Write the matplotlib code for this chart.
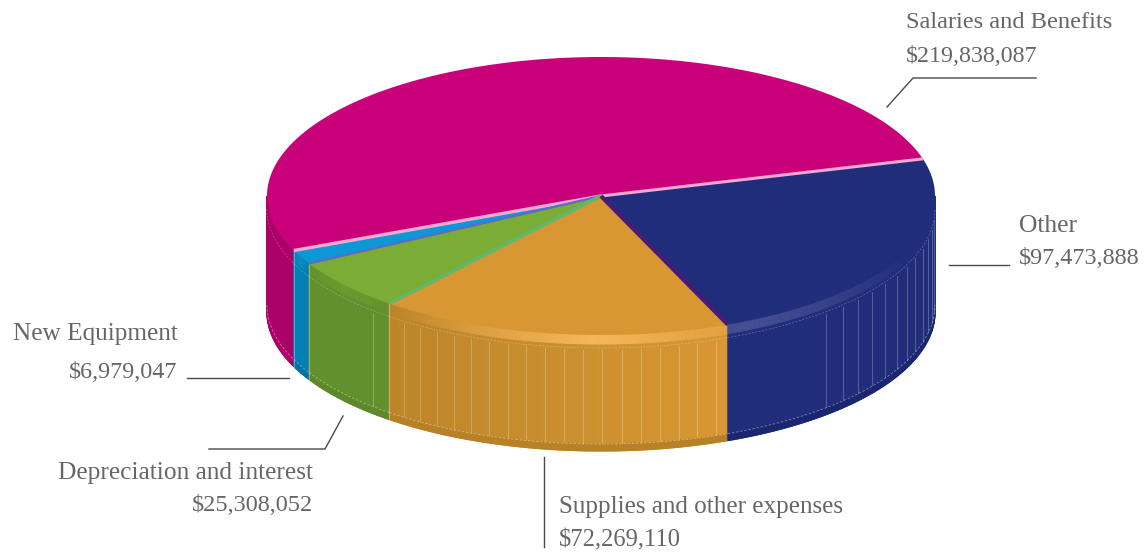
import numpy as np
from matplotlib import pyplot as plt
from matplotlib.colors import to_rgb

categories = ["Salaries and Benefits", "New Equipment", "Depreciation and interest",
              "Supplies and other expenses", "Other"]
values = [219838087, 6979047, 25308052, 72269110, 97473888]
value_labels = ["$219,838,087", "$6,979,047", "$25,308,052", "$72,269,110", "$97,473,888"]

top_colors = ["#C9007A", "#0C97D6", "#7BAC35", "#D89733", "#1F2D7B"]
wall_left = ["#AA0067", "#0080B2", "#62902D", "#BC8529", "#1F2D7B"]
wall_right = ["#AA0067", "#0080B2", "#62902D", "#D89733", "#1F2D7B"]
lip_colors = ["#AA0067", "#0C8CC4", "#6C9A30", "#F6B65A", "#454F92"]
base_colors = ["#AA0067", "#0074A4", "#5C8A2A", "#B98126", "#1A2670"]
seam_colors = ["#F5A8D0", "#F5A8D0", "#5A6BC8", "#62B868", "#4A1A78"]
seam_widths = [2.2, 2.4, 1.6, 2.6, 3.0]
lip_peaks = [0.5, 0.5, 0.5, 0.62, 0.05]
rib_steps = [0, 0, 18, 3.3, 4.0]
rib_skips = [0, 0, 0, 0, 16]

cx, cy, rx, ry = 601, 196, 334, 139
depth = 116
start = 15.5
W, H = 1145, 554

plt.rcParams['font.family'] = ['Liberation Serif', 'DejaVu Serif']
fig = plt.figure(figsize=(W / 100, H / 100), dpi=100)
ax = fig.add_axes([0, 0, 1, 1])
ax.set_xlim(0, W)
ax.set_ylim(H, 0)
ax.axis('off')


def rim(angle, drop=0.0):
    a = np.radians(angle)
    return cx + rx * np.cos(a), cy - ry * np.sin(a) + drop


def band(a0, a1, d0, d1, color, z):
    t = np.linspace(a0, a1, max(int(abs(a1 - a0) * 3), 2))
    x0, y0 = rim(t, d0)
    x1, y1 = rim(t[::-1], d1)
    ax.fill(np.r_[x0, x1], np.r_[y0, y1], facecolor=color, edgecolor=color, lw=0.8, zorder=z)


def mix(c0, c1, f):
    return tuple((1 - f) * np.array(to_rgb(c0)) + f * np.array(to_rgb(c1)))


edges = start + np.r_[0, np.cumsum(values)] / np.sum(values) * 360

for i, name in enumerate(categories):
    a0, a1 = edges[i], edges[i + 1]

    # walls, only where the rim faces the viewer
    for lo, hi in [(a0, a1), (a0 - 360, a1 - 360)]:
        lo, hi = max(lo, 180), min(hi, 360)
        if lo >= hi:
            continue
        steps = np.linspace(lo, hi, int(hi - lo) + 2)
        for k in range(len(steps) - 1):
            f = k / max(len(steps) - 2, 1)
            base = mix(wall_left[i], wall_right[i], f)
            band(steps[k], steps[k + 1], 0, depth, base, 2)
        for k in range(len(steps) - 1):
            f = k / max(len(steps) - 2, 1)
            base = mix(wall_left[i], wall_right[i], f)
            strength = max(0.0, 1 - abs(f - lip_peaks[i]) / 0.6)
            band(steps[k], steps[k + 1], 0, 9, mix(base, lip_colors[i], strength), 3)
        band(lo, hi, depth - 7, depth, base_colors[i], 3)

        # thin seams near the top and bottom of the wall
        t = np.linspace(lo, hi, 100)
        ax.plot(*rim(t, 13), color='white', lw=0.5, alpha=0.3, ls=(0, (3, 2)), zorder=4)
        ax.plot(*rim(t, depth - 7), color='white', lw=0.6, alpha=0.45, ls=(0, (3, 2)), zorder=4)

        if rib_steps[i]:
            for r in np.arange(lo + rib_skips[i] + rib_steps[i], hi - 1, rib_steps[i]):
                rx0, ry0 = rim(r, 15)
                rx1, ry1 = rim(r, depth - 8)
                ax.plot([rx0, rx1], [ry0, ry1], color='white', lw=0.7, alpha=0.25, zorder=4)

    # top face
    t = np.linspace(a0, a1, 200)
    x, y = rim(t)
    ax.fill(np.r_[cx, x], np.r_[cy, y], color=top_colors[i], lw=0, zorder=5)

# coloured seams along the slice boundaries
for i in range(len(categories)):
    ex, ey = rim(edges[i])
    ax.plot([cx, ex], [cy, ey], color=seam_colors[i], lw=seam_widths[i], zorder=6,
            solid_capstyle='butt')

# vertical faces at the slice joins
for a in edges[1:4]:
    jx, jy = rim(a)
    ax.plot([jx, jx], [jy, jy + depth], color='white', lw=0.6, alpha=0.4, zorder=4)

# leader lines
leader = "#4A4A4A"
ax.plot([1036, 913, 887], [78, 78, 107], color=leader, lw=1.0, zorder=7)
ax.plot([949, 1009], [265, 265], color=leader, lw=1.0, zorder=7)
ax.plot([187, 289], [378, 378], color=leader, lw=1.0, zorder=7)
ax.plot([209, 325, 343], [449, 449, 416], color=leader, lw=1.0, zorder=7)
ax.plot([544, 544], [457, 547], color=leader, lw=1.0, zorder=7)

# labels
style = dict(color="#666666", va='baseline', zorder=8)
ax.text(906, 28, categories[0], ha='left', fontsize=17.6, **style)
ax.text(906, 62, value_labels[0], ha='left', fontsize=17.3, **style)
ax.text(1019, 232, categories[4], ha='left', fontsize=18.4, **style)
ax.text(1019, 264, value_labels[4], ha='left', fontsize=17.4, **style)
ax.text(13, 340, categories[1], ha='left', fontsize=18.2, **style)
ax.text(177.5, 378, value_labels[1], ha='right', fontsize=17.4, **style)
ax.text(313.5, 479, categories[2], ha='right', fontsize=18.3, **style)
ax.text(313.5, 511, value_labels[2], ha='right', fontsize=17.5, **style)
ax.text(559, 513, categories[3], ha='left', fontsize=18.1, **style)
ax.text(559, 546, value_labels[3], ha='left', fontsize=17.7, **style)

fig.savefig("out.png", dpi=100)
